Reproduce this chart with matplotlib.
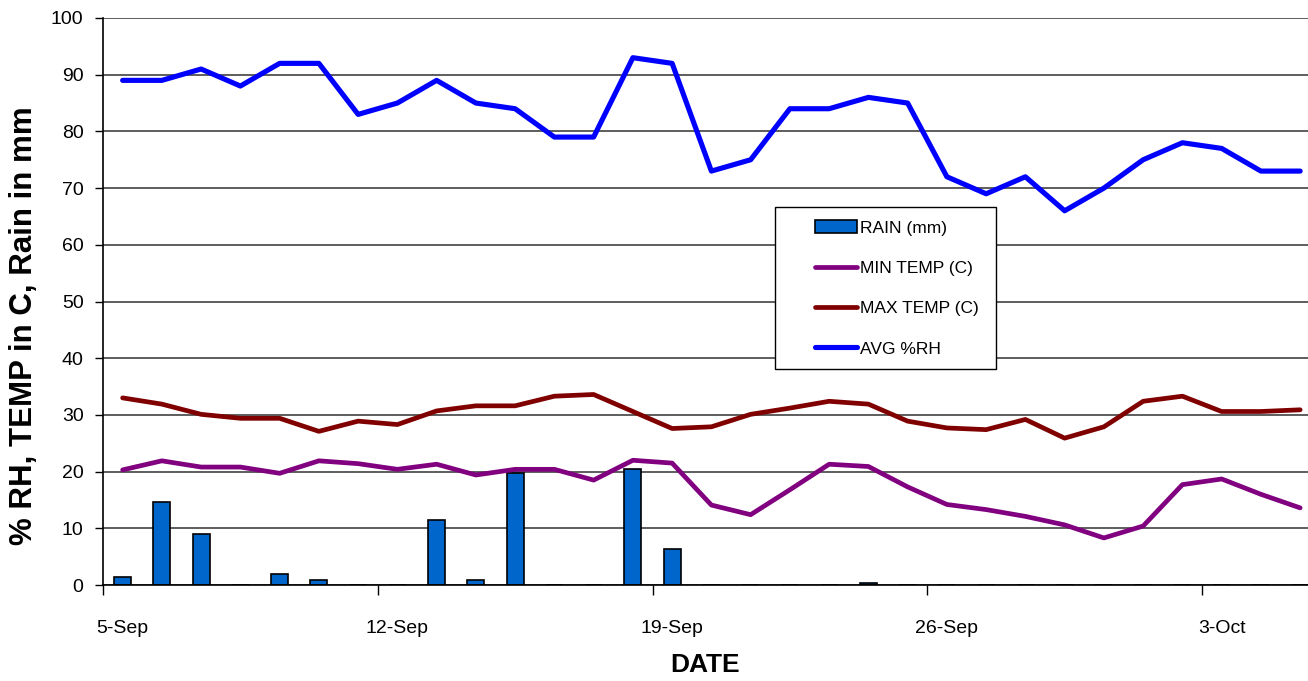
import matplotlib
matplotlib.use("Agg")
import matplotlib.pyplot as plt
from matplotlib import font_manager
from matplotlib.patches import Rectangle

# daily values, 5-Sep .. 5-Oct
dates = ["5-Sep", "6-Sep", "7-Sep", "8-Sep", "9-Sep", "10-Sep", "11-Sep",
         "12-Sep", "13-Sep", "14-Sep", "15-Sep", "16-Sep", "17-Sep", "18-Sep",
         "19-Sep", "20-Sep", "21-Sep", "22-Sep", "23-Sep", "24-Sep", "25-Sep",
         "26-Sep", "27-Sep", "28-Sep", "29-Sep", "30-Sep", "1-Oct", "2-Oct",
         "3-Oct", "4-Oct", "5-Oct"]
rain = [1.4, 14.6, 9.0, 0, 2.0, 0.8, 0, 0, 11.4, 0.8, 19.8, 0, 0, 20.5, 6.4,
        0, 0, 0, 0, 0.3, 0, 0, 0, 0, 0, 0, 0, 0, 0, 0, 0]
min_temp = [20.3, 21.9, 20.8, 20.8, 19.7, 21.9, 21.4, 20.4, 21.3, 19.4, 20.4,
            20.4, 18.5, 22.0, 21.5, 14.1, 12.4, 16.8, 21.3, 20.9, 17.3, 14.2,
            13.3, 12.1, 10.6, 8.3, 10.4, 17.7, 18.7, 16.0, 13.6]
max_temp = [33.0, 31.9, 30.1, 29.4, 29.4, 27.1, 28.9, 28.3, 30.7, 31.6, 31.6,
            33.3, 33.6, 30.6, 27.6, 27.9, 30.1, 31.2, 32.4, 31.9, 28.9, 27.7,
            27.4, 29.2, 25.9, 27.9, 32.4, 33.3, 30.6, 30.6, 30.9]
avg_rh = [89, 89, 91, 88, 92, 92, 83, 85, 89, 85, 84, 79, 79, 93, 92, 73, 75,
          84, 84, 86, 85, 72, 69, 72, 66, 70, 75, 78, 77, 73, 73]
series_names = ["RAIN (mm)", "MIN TEMP (C)", "MAX TEMP (C)", "AVG %RH"]
label_every = 7


def pick_font(names):
    for n in names:
        try:
            font_manager.findfont(n, fallback_to_default=False)
            return n
        except Exception:
            pass
    return "DejaVu Sans"


main_font = pick_font(["Liberation Sans", "Arial"])
plt.rcParams["font.family"] = main_font

fig = plt.figure(figsize=(13.08, 6.81), dpi=100)
ax = fig.add_axes([103 / 1308, 96 / 681, 1205 / 1308, 567 / 681])

x = list(range(len(dates)))
bars = ax.bar(x, rain, width=0.43, color="#0066CC", edgecolor="black",
              linewidth=1.2, zorder=2, label=series_names[0])
l1, = ax.plot(x, min_temp, color="#800080", lw=3.4, zorder=3,
              solid_capstyle="round", label=series_names[1])
l2, = ax.plot(x, max_temp, color="#800000", lw=3.4, zorder=3,
              solid_capstyle="round", label=series_names[2])
l3, = ax.plot(x, avg_rh, color="#0000FF", lw=3.7, zorder=3,
              solid_capstyle="round", label=series_names[3])

ax.set_xlim(-0.5, 30.2)
ax.set_ylim(0, 100)
ax.set_yticks(range(0, 101, 10))
ax.yaxis.grid(True, color="#505050", lw=1.3, zorder=0)
ax.set_axisbelow(True)

# ticks on day boundaries, labels centred on the days
ax.set_xticks([i - 0.5 for i in x[::label_every]])
ax.set_xticklabels([])
ax.set_xticks(x[::label_every], minor=True)
ax.set_xticklabels(dates[::label_every], minor=True)
ax.tick_params(axis="x", which="major", length=7, width=1, direction="out")
ax.tick_params(axis="x", which="minor", length=0, pad=25, labelsize=14)
ax.tick_params(axis="y", length=6, width=1, pad=8, labelsize=14)

for s in ["top", "right"]:
    ax.spines[s].set_visible(False)
ax.spines["left"].set_linewidth(1.2)
ax.spines["bottom"].set_linewidth(1.2)

ax.set_xlabel("DATE", fontsize=19, fontweight="bold", labelpad=12)
ax.set_ylabel("% RH, TEMP in C, Rain in mm", fontsize=22.5, fontweight="bold")
ax.yaxis.set_label_coords(-0.053, 0.457)

# legend box
ax.add_patch(Rectangle((0.5577, 0.381), 0.1834, 0.2857, transform=ax.transAxes,
                       facecolor="white", edgecolor="black", lw=1.0,
                       zorder=4, clip_on=False))
leg = ax.legend(handles=[bars, l1, l2, l3], loc="upper left",
                bbox_to_anchor=(0.5909, 0.643), frameon=False, borderpad=0,
                borderaxespad=0, handlelength=2.4, handletextpad=0.2,
                labelspacing=1.45, prop={"family": main_font, "size": 12.5})
leg.set_zorder(5)

fig.savefig("out.png", dpi=100)
